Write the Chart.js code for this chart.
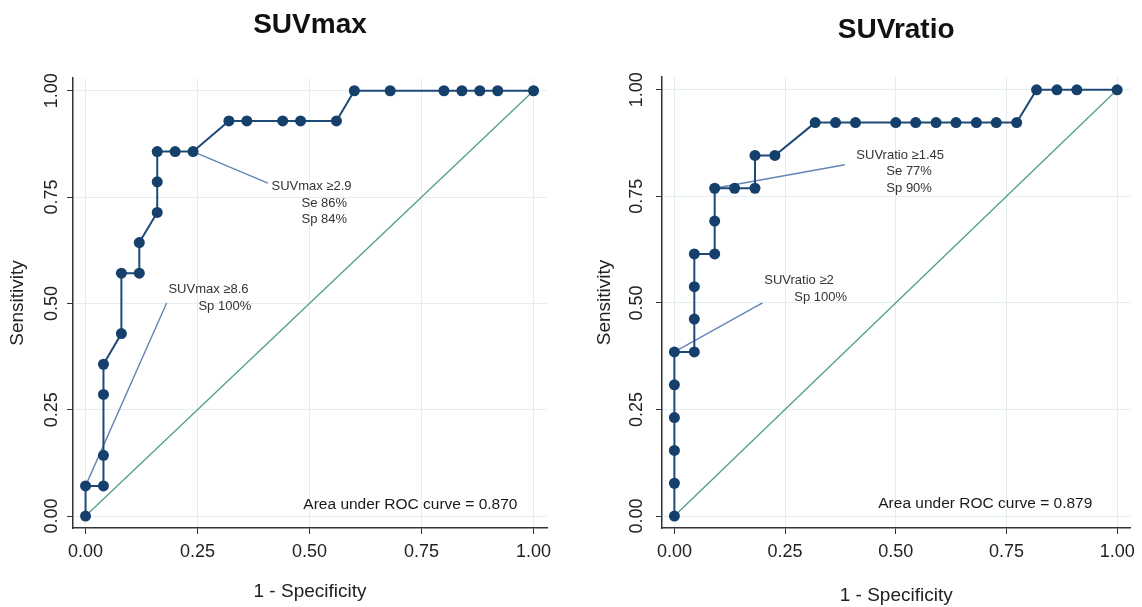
<!DOCTYPE html>
<html>
<head>
<meta charset="utf-8">
<script src="https://cdn.jsdelivr.net/npm/chart.js@4.4.1/dist/chart.umd.min.js"></script>
<style>
  html, body { margin: 0; padding: 0; background: #fff; }
  #wrap { position: relative; width: 1142px; height: 607px; }
  .box { position: absolute; top: 0; width: 571px; height: 607px; }
</style>
</head>
<body>
<div id="wrap">
  <div class="box" style="left:0"><canvas id="suvmax" width="571" height="607"></canvas></div>
  <div class="box" style="left:571px"><canvas id="suvratio" width="571" height="607"></canvas></div>
</div>
<script>
// axis ticks (both panels)
const tickValues = [0, 0.25, 0.5, 0.75, 1];
const tickLabels = ['0.00', '0.25', '0.50', '0.75', '1.00'];

// SUVmax ROC curve (1 - specificity, sensitivity)
const suvmaxFpr  = [0, 0, 0.04, 0.04, 0.04, 0.04, 0.08, 0.08, 0.12, 0.12, 0.16, 0.16, 0.16, 0.20, 0.24,
                    0.32, 0.36, 0.44, 0.48, 0.56, 0.60, 0.68, 0.80, 0.84, 0.88, 0.92, 1.00];
const suvmaxSens = [0, 0.071, 0.071, 0.143, 0.286, 0.357, 0.429, 0.571, 0.571, 0.643, 0.714, 0.786, 0.857, 0.857, 0.857,
                    0.929, 0.929, 0.929, 0.929, 0.929, 1, 1, 1, 1, 1, 1, 1];

// SUVratio ROC curve
const suvratioFpr  = [0, 0, 0, 0, 0, 0, 0.045, 0.045, 0.045, 0.045, 0.091, 0.091, 0.091, 0.136, 0.182, 0.182, 0.227,
                      0.318, 0.364, 0.409, 0.5, 0.545, 0.591, 0.636, 0.682, 0.727, 0.773, 0.818, 0.864, 0.909, 1];
const suvratioSens = [0, 0.077, 0.154, 0.231, 0.308, 0.385, 0.385, 0.462, 0.538, 0.615, 0.615, 0.692, 0.769, 0.769, 0.769, 0.846, 0.846,
                      0.923, 0.923, 0.923, 0.923, 0.923, 0.923, 0.923, 0.923, 0.923, 0.923, 1, 1, 1, 1];

// reference (chance) line
const refX = [0, 1];
const refY = [0, 1];

// leader lines from cut-off points to their labels
const suvmaxLeadX1 = [0.24, 0.407];
const suvmaxLeadY1 = [0.857, 0.783];
const suvmaxLeadX2 = [0, 0.181];
const suvmaxLeadY2 = [0.071, 0.501];
const suvratioLeadX1 = [0.091, 0.385];
const suvratioLeadY1 = [0.769, 0.824];
const suvratioLeadX2 = [0, 0.199];
const suvratioLeadY2 = [0.385, 0.5];

const FONT = '"Liberation Sans", Arial, sans-serif';

function pts(xs, ys) {
  return xs.map((v, i) => ({ x: v, y: ys[i] }));
}

// labels & AUC text, anchored through the scales
const notesPlugin = {
  id: 'rocNotes',
  afterDatasetsDraw(chart, args, opts) {
    const { ctx, scales: { x, y } } = chart;
    ctx.save();
    ctx.textBaseline = 'middle';
    ctx.textAlign = 'left';
    ctx.fillStyle = '#333';
    ctx.font = '13px ' + FONT;
    opts.notes.forEach(n => {
      const px = x.getPixelForValue(n.x);
      const py = y.getPixelForValue(n.y);
      n.lines.forEach((t, i) => ctx.fillText(t, px + (i ? 30 : 0), py + i * 16.5));
    });
    ctx.textAlign = 'right';
    ctx.fillStyle = '#1a1a1a';
    ctx.font = '15.5px ' + FONT;
    ctx.fillText(opts.area, x.getPixelForValue(opts.areaX), y.getPixelForValue(opts.areaY));
    ctx.restore();
  }
};

function makeChart(id, p) {
  const ctx = document.getElementById(id).getContext('2d');
  return new Chart(ctx, {
    type: 'scatter',
    data: {
      datasets: [
        {
          data: pts(p.fpr, p.sens),
          showLine: true,
          borderColor: '#1d4a78',
          borderWidth: 2,
          pointRadius: 5.5,
          pointBackgroundColor: '#15406b',
          pointBorderWidth: 0
        },
        {
          data: pts(refX, refY),
          showLine: true,
          borderColor: '#4f9e8c',
          borderWidth: 1.3,
          pointRadius: 0
        },
        {
          data: pts(p.lead1[0], p.lead1[1]),
          showLine: true,
          borderColor: '#6584b6',
          borderWidth: 1.4,
          pointRadius: 0
        },
        {
          data: pts(p.lead2[0], p.lead2[1]),
          showLine: true,
          borderColor: '#6584b6',
          borderWidth: 1.4,
          pointRadius: 0
        }
      ]
    },
    options: {
      responsive: false,
      animation: false,
      layout: { padding: { left: 0, right: p.padRight, top: 0, bottom: 0 } },
      plugins: {
        legend: { display: false },
        tooltip: { enabled: false },
        title: {
          display: true,
          text: p.title,
          fullSize: false,
          color: '#111',
          font: { family: FONT, size: 28, weight: 'bold' },
          padding: { top: p.titleTop, bottom: p.titleBottom }
        },
        rocNotes: { notes: p.notes, area: p.area, areaX: p.areaX, areaY: p.areaY }
      },
      scales: {
        x: {
          type: 'linear',
          min: -0.028,
          max: 1.03,
          afterBuildTicks: s => { s.ticks = tickValues.map(v => ({ value: v })); },
          afterFit: s => { s.height = 79; },
          ticks: {
            callback: v => tickLabels[tickValues.indexOf(v)],
            autoSkip: false,
            maxRotation: 0,
            padding: 7,
            color: '#222',
            font: { family: FONT, size: 18 }
          },
          grid: { color: '#e3eef1', lineWidth: 1, tickColor: '#333', tickLength: 6 },
          border: { color: '#333', width: 1.5 },
          title: {
            display: true,
            text: '1 - Specificity',
            color: '#222',
            font: { family: FONT, size: 19 },
            padding: { top: 0, bottom: p.xTitleBottom }
          }
        },
        y: {
          type: 'linear',
          min: -0.028,
          max: 1.03,
          afterBuildTicks: s => { s.ticks = tickValues.map(v => ({ value: v })); },
          afterFit: s => { s.width = p.yWidth; },
          ticks: {
            callback: v => tickLabels[tickValues.indexOf(v)],
            autoSkip: false,
            minRotation: 90,
            maxRotation: 90,
            crossAlign: 'center',
            padding: p.yTickPad,
            color: '#222',
            font: { family: FONT, size: 18 }
          },
          grid: { color: '#e3eef1', lineWidth: 1, tickColor: '#333', tickLength: 6 },
          border: { color: '#333', width: 1.5 },
          title: {
            display: true,
            text: 'Sensitivity',
            color: '#222',
            font: { family: FONT, size: 19 },
            padding: { top: p.yTitleTop, bottom: 0 }
          }
        }
      }
    },
    plugins: [notesPlugin]
  });
}

makeChart('suvmax', {
  title: 'SUVmax',
  fpr: suvmaxFpr,
  sens: suvmaxSens,
  lead1: [suvmaxLeadX1, suvmaxLeadY1],
  lead2: [suvmaxLeadX2, suvmaxLeadY2],
  notes: [
    { x: 0.415, y: 0.774, lines: ['SUVmax \u22652.9', 'Se 86%', 'Sp 84%'] },
    { x: 0.185, y: 0.532, lines: ['SUVmax \u22658.6', 'Sp 100%'] }
  ],
  area: 'Area under ROC curve = 0.870',
  areaX: 0.964,
  areaY: 0.026,
  padRight: 24,
  titleTop: 8,
  titleBottom: 36.4,
  yWidth: 73,
  yTickPad: -3,
  yTitleTop: 6,
  xTitleBottom: 4
});

makeChart('suvratio', {
  title: 'SUVratio',
  fpr: suvratioFpr,
  sens: suvratioSens,
  lead1: [suvratioLeadX1, suvratioLeadY1],
  lead2: [suvratioLeadX2, suvratioLeadY2],
  notes: [
    { x: 0.411, y: 0.847, lines: ['SUVratio \u22651.45', 'Se 77%', 'Sp 90%'] },
    { x: 0.203, y: 0.552, lines: ['SUVratio \u22652', 'Sp 100%'] }
  ],
  area: 'Area under ROC curve = 0.879',
  areaX: 0.944,
  areaY: 0.028,
  padRight: 6,
  titleTop: 13,
  titleBottom: 30.4,
  yWidth: 91,
  yTickPad: 1,
  yTitleTop: 22,
  xTitleBottom: 0
});
</script>
</body>
</html>
